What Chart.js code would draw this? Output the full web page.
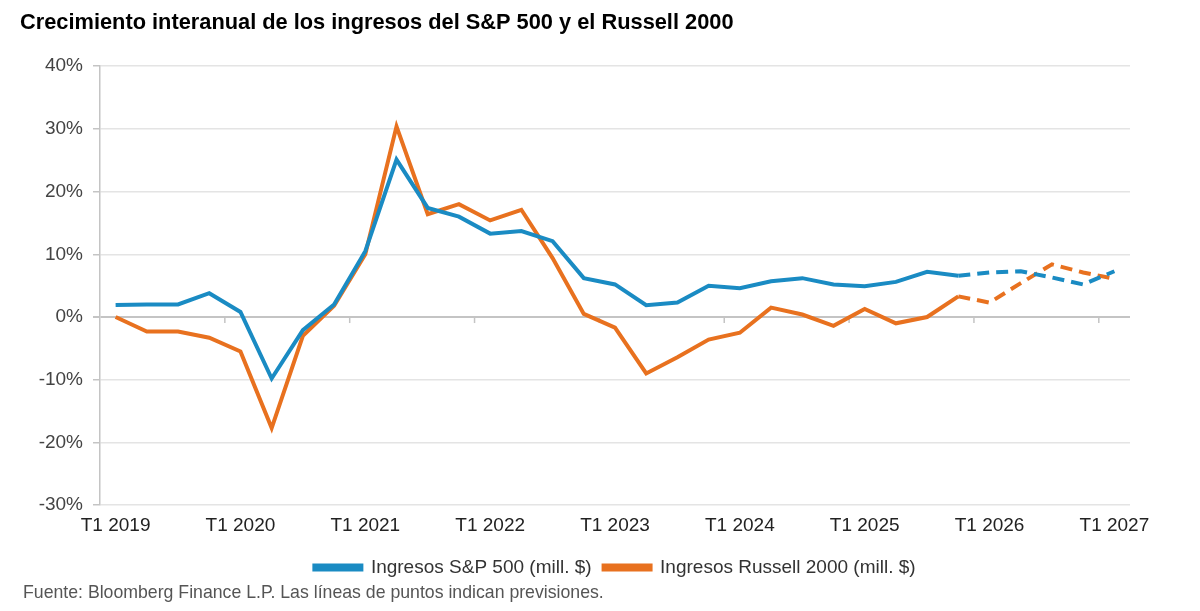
<!DOCTYPE html>
<html>
<head>
<meta charset="utf-8">
<script src="https://cdn.jsdelivr.net/npm/chart.js@4"></script>
<style>
  html, body { margin: 0; padding: 0; background: #ffffff; }
  #wrap { width: 1200px; height: 611px; position: relative; }
</style>
</head>
<body>
<div id="wrap"><canvas id="c" width="1200" height="611"></canvas></div>
<script>
const titleText = 'Crecimiento interanual de los ingresos del S&P 500 y el Russell 2000';
const sourceText = 'Fuente: Bloomberg Finance L.P. Las líneas de puntos indican previsiones.';
const years = [2019, 2020, 2021, 2022, 2023, 2024, 2025, 2026, 2027];
const quarters = ['T1', 'T2', 'T3', 'T4'];
const categories = [];
years.forEach(y => quarters.forEach(q => { if (categories.length < 33) categories.push(q + ' ' + y); }));
const seriesNames = ['Ingresos S&P 500 (mill. $)', 'Ingresos Russell 2000 (mill. $)'];
const sp500 = [1.9, 2.0, 2.0, 3.8, 0.8, -9.8, -2.1, 2.0, 10.5, 25.1, 17.4, 16.0, 13.3, 13.7, 12.1, 6.2, 5.2, 1.9, 2.3, 5.0, 4.6, 5.7, 6.2, 5.2, 4.9, 5.6, 7.2, 6.6, 7.1, 7.3, 6.3, 5.2, 7.3];
const russell = [0.0, -2.3, -2.3, -3.3, -5.5, -17.7, -3.0, 1.8, 10.0, 30.4, 16.4, 18.0, 15.4, 17.1, 9.4, 0.5, -1.7, -9.0, -6.4, -3.6, -2.5, 1.5, 0.4, -1.4, 1.3, -1.0, 0.0, 3.3, 2.3, 5.4, 8.4, 7.1, 6.1];
const forecastStart = 27;
const yTicks = [-30, -20, -10, 0, 10, 20, 30, 40];

const BLUE = '#1a8bc3';
const ORANGE = '#e8711f';
const FONT = "'Liberation Sans', Arial, Helvetica, sans-serif";

const dashSeg = { borderDash: ctx => ctx.p0DataIndex >= forecastStart ? [12, 7] : undefined };

const zeroTicks = {
  id: 'zeroTicks',
  beforeDatasetsDraw(chart) {
    const x = chart.scales.x, y = chart.scales.y;
    const y0 = y.getPixelForValue(0);
    const ctx = chart.ctx;
    ctx.save();
    ctx.strokeStyle = '#c4c4c4';
    ctx.lineWidth = 1.5;
    for (let i = 4; i < categories.length; i += 4) {
      const px = (x.getPixelForValue(i - 1) + x.getPixelForValue(i)) / 2;
      ctx.beginPath();
      ctx.moveTo(px, y0);
      ctx.lineTo(px, y0 + 6);
      ctx.stroke();
    }
    ctx.restore();
  }
};

const sourcePlugin = {
  id: 'sourceText',
  afterDraw(chart) {
    const ctx = chart.ctx;
    ctx.save();
    ctx.font = '17.7px ' + FONT;
    ctx.fillStyle = '#555555';
    ctx.textAlign = 'left';
    ctx.textBaseline = 'middle';
    ctx.fillText(sourceText, 23, 593);
    ctx.restore();
  }
};

new Chart(document.getElementById('c'), {
  type: 'line',
  data: {
    labels: categories,
    datasets: [
      { label: seriesNames[0], data: sp500, borderColor: BLUE, backgroundColor: BLUE, borderWidth: 4, pointRadius: 0, tension: 0, segment: dashSeg },
      { label: seriesNames[1], data: russell, borderColor: ORANGE, backgroundColor: ORANGE, borderWidth: 4, pointRadius: 0, tension: 0, segment: dashSeg }
    ]
  },
  options: {
    responsive: false,
    animation: false,
    devicePixelRatio: 1,
    layout: { padding: { left: 20, right: 70, top: 0, bottom: 24 } },
    plugins: {
      title: {
        display: true, text: titleText, align: 'start', color: '#000000',
        font: { family: FONT, size: 21.8, weight: 'bold' },
        padding: { top: 10, bottom: 30 }
      },
      legend: {
        display: true, position: 'bottom', fullSize: false,
        labels: {
          color: '#333333', font: { family: FONT, size: 19 },
          boxWidth: 47, boxHeight: 4, padding: 12
        }
      },
      tooltip: { enabled: false }
    },
    scales: {
      x: {
        offset: true,
        grid: { display: false, drawTicks: false },
        border: { display: false },
        ticks: {
          autoSkip: false, maxRotation: 0, minRotation: 0, padding: 9,
          color: '#222222', font: { family: FONT, size: 19 },
          callback: (v, i) => (i % 4 === 0 ? categories[i] : '')
        }
      },
      y: {
        min: -30, max: 40,
        afterBuildTicks: s => { s.ticks = yTicks.map(v => ({ value: v })); },
        afterFit: s => { s.width = 80; },
        grid: {
          color: ctx => (ctx.tick && ctx.tick.value === 0 ? '#c4c4c4' : '#e4e4e4'),
          lineWidth: ctx => (ctx.tick && ctx.tick.value === 0 ? 2 : 1.5),
          tickLength: 7, tickColor: '#c4c4c4'
        },
        border: { display: true, color: '#c4c4c4', width: 1.5 },
        ticks: {
          padding: 10, color: '#444444', font: { family: FONT, size: 19 },
          callback: v => v + '%'
        }
      }
    }
  },
  plugins: [zeroTicks, sourcePlugin]
});
</script>
</body>
</html>
